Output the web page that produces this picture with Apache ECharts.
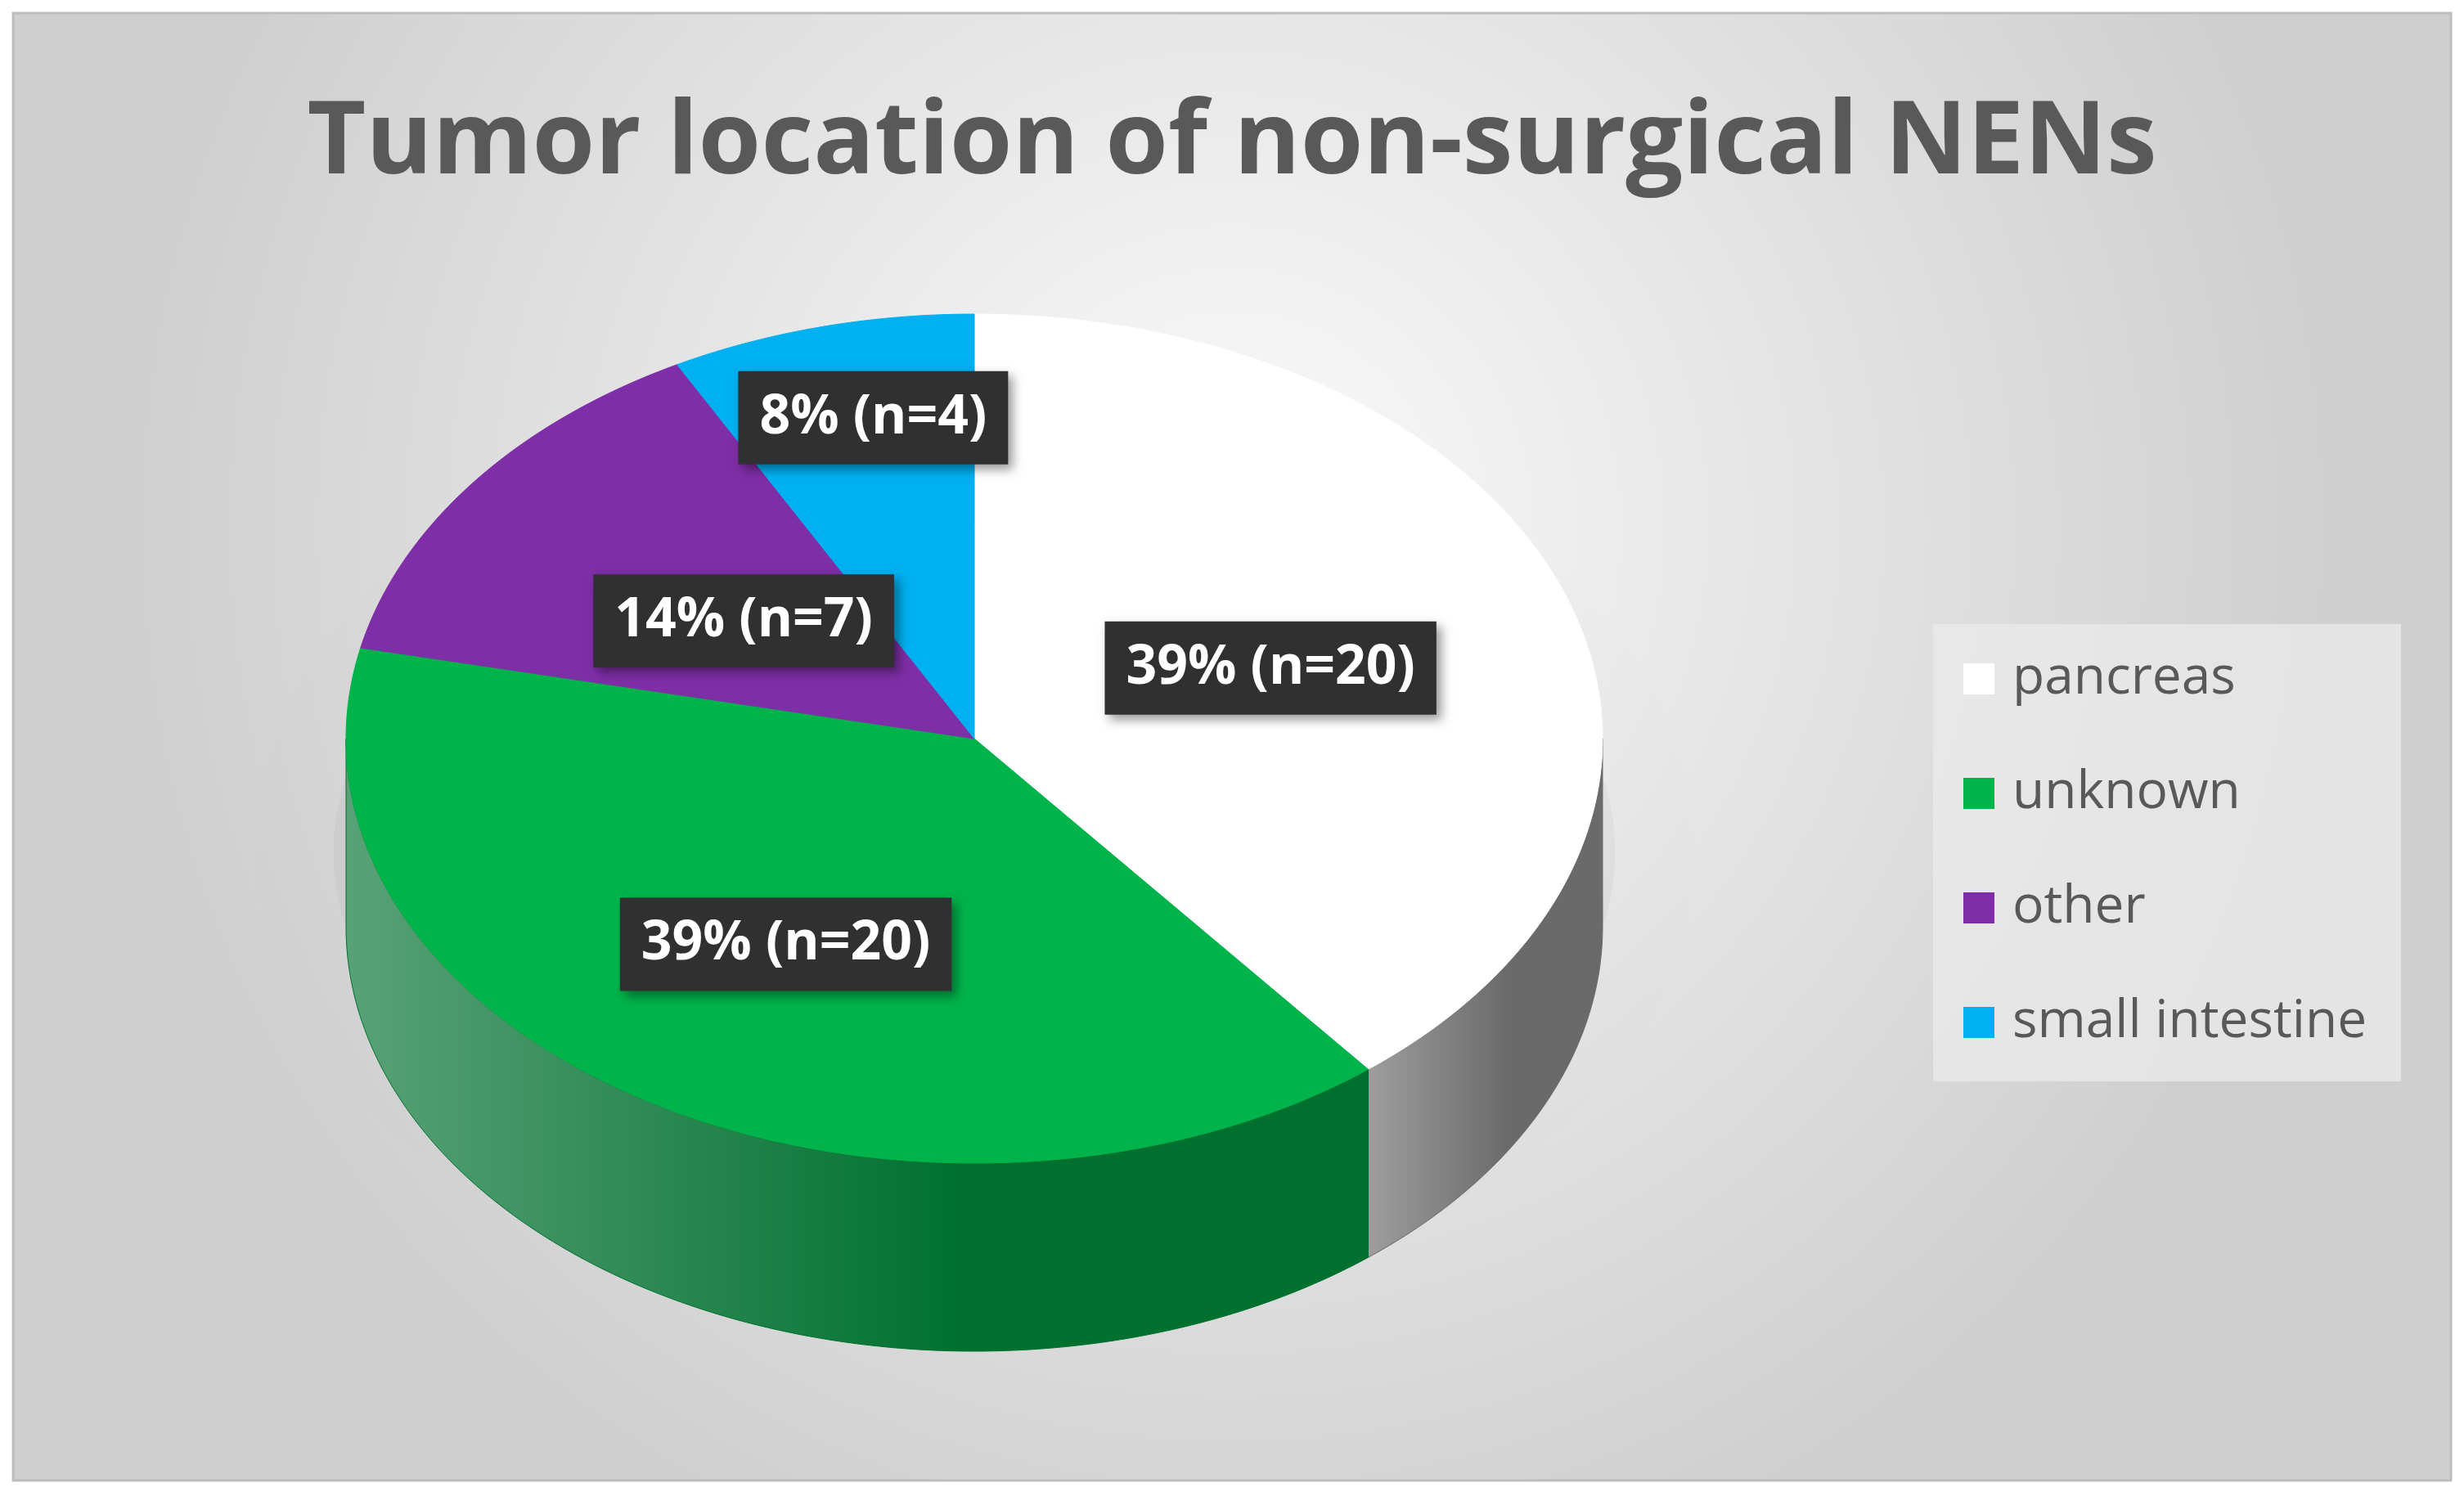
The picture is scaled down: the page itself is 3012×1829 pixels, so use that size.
<!DOCTYPE html>
<html>
<head>
<meta charset="utf-8">
<script src="https://cdn.jsdelivr.net/npm/echarts@6/dist/echarts.min.js"></script>
<style>
  html, body { margin: 0; padding: 0; background: #fff; }
  #chart { width: 3012px; height: 1829px; }
</style>
</head>
<body>
<div id="chart"></div>
<script>
const categories = ['pancreas', 'unknown', 'other', 'small intestine']
const counts = [20, 20, 7, 4]
const topColors = ['#ffffff', '#00b34a', '#7e2ea6', '#00b0f0']
const sideColors = ['#6a6a6a', '#00702f', '#4e1b68', '#006f96']

const total = counts.reduce((a, b) => a + b, 0)
const starts = []
let acc = 0
counts.forEach(function (c) { starts.push(acc); acc += c })

const CX = 1191, CY = 903, RX = 768, RY = 519, DEPTH = 230
// label distance from centre, as fraction of radius
const labelR = [0.5, 0.57, 0.46, 0.66]

function pt(deg, dy) {
  const r = deg * Math.PI / 180
  return [CX + RX * Math.sin(r), CY - RY * Math.cos(r) + (dy || 0)]
}
function arc(a0, a1, dy) {
  const pts = []
  const n = Math.max(2, Math.ceil(a1 - a0))
  for (let i = 0; i <= n; i++) pts.push(pt(a0 + (a1 - a0) * i / n, dy))
  return pts
}

function renderItem(params, api) {
  const i = params.dataIndex
  const v = api.value(0)
  const a0 = starts[i] / total * 360
  const a1 = (starts[i] + v) / total * 360
  const children = []
  // visible side wall: front half of the ellipse
  const s0 = Math.max(a0, 90), s1 = Math.min(a1, 270)
  if (s1 > s0) {
    const top = arc(s0, s1, 0)
    const bottom = arc(s0, s1, DEPTH).reverse()
    children.push({
      type: 'polygon',
      shape: { points: top.concat(bottom) },
      style: {
        fill: new echarts.graphic.LinearGradient(0, 0, 1, 0, [
          { offset: 0, color: echarts.color.lift(sideColors[i], 0.35) },
          { offset: 0.6, color: sideColors[i] },
          { offset: 1, color: sideColors[i] }
        ], false),
        stroke: sideColors[i], lineWidth: 1
      }
    })
  }
  children.push({
    type: 'polygon',
    shape: { points: [[CX, CY]].concat(arc(a0, a1, 0)) },
    style: { fill: topColors[i], stroke: topColors[i], lineWidth: 1 }
  })
  const mid = (a0 + a1) / 2
  const r = mid * Math.PI / 180
  const f = labelR[i]
  const pct = Math.round(v / total * 100)
  children.push({
    type: 'text',
    x: CX + RX * f * Math.sin(r),
    y: CY - RY * f * Math.cos(r) - (i === 3 ? 60 : 0),
    z2: 10,
    style: {
      text: pct + '% (n=' + v + ')',
      fill: '#ffffff',
      font: 'bold 66px "Open Sans", sans-serif',
      align: 'center', verticalAlign: 'middle',
      backgroundColor: '#303030',
      padding: [24, 26, 24, 26],
      shadowBlur: 12, shadowOffsetX: 6, shadowOffsetY: 6, shadowColor: 'rgba(0,0,0,0.4)'
    }
  })
  return { type: 'group', children: children }
}

const legendGraphics = [{
  type: 'rect',
  shape: { x: 2363, y: 763, width: 572, height: 559 },
  style: { fill: 'rgba(235,235,235,0.75)' }
}]
categories.forEach(function (name, i) {
  const y = 830 + i * 140
  legendGraphics.push({
    type: 'rect', shape: { x: 2400, y: y - 19, width: 38, height: 38 },
    style: { fill: topColors[i] }
  })
  legendGraphics.push({
    type: 'text', x: 2460, y: y,
    style: { text: name, fill: '#595959', font: '64px "Open Sans", sans-serif', verticalAlign: 'middle' }
  })
})

const chart = echarts.init(document.getElementById('chart'))
chart.setOption({
  animation: false,
  backgroundColor: '#ffffff',
  title: {
    text: 'Tumor location of non-surgical NENs',
    left: 'center', top: 110,
    textStyle: { color: '#595959', fontSize: 124, fontWeight: 'bold', fontFamily: 'Open Sans' }
  },
  graphic: [{
    type: 'rect', z: -10,
    shape: { x: 16, y: 16, width: 2980, height: 1794 },
    style: {
      fill: new echarts.graphic.RadialGradient(0.5, 0.35, 0.75, [
        { offset: 0, color: '#fbfbfb' },
        { offset: 1, color: '#cfcfcf' }
      ]),
      stroke: '#bdbdbd', lineWidth: 3
    }
  }, {
    type: 'ellipse', z: -5,
    shape: { cx: CX, cy: CY + DEPTH * 0.6, rx: RX * 1.02, ry: RY * 0.9 },
    style: { fill: 'rgba(0,0,0,0.03)', shadowBlur: 80, shadowColor: 'rgba(0,0,0,0.15)' }
  }].concat(legendGraphics),
  xAxis: { show: false }, yAxis: { show: false },
  series: [{
    type: 'custom',
    coordinateSystem: 'none',
    renderItem: renderItem,
    data: counts.map(function (c, i) { return { name: categories[i], value: [c] } })
  }]
}, true)
</script>
</body>
</html>
